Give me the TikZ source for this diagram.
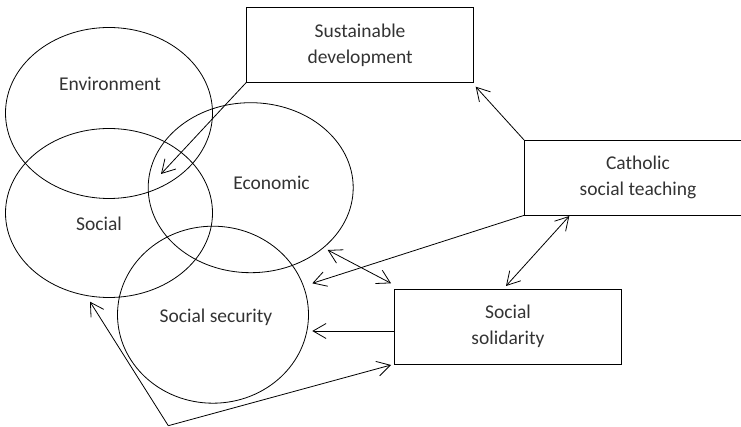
\documentclass[tikz,border=0pt]{standalone}
\usepackage{fontspec}
\setmainfont{Carlito}
\usepackage{tikz}
\usetikzlibrary{calc}
\usetikzlibrary{arrows.meta}
\usetikzlibrary{shapes.geometric}
\tikzset{
    blob/.style={draw=black, line width=0.8pt, ellipse, inner sep=0pt},
    box/.style={draw=black, line width=0.8pt, rectangle, inner sep=0pt,
                minimum width=227pt, minimum height=74.5pt, align=center},
    lbl/.style={inner sep=0pt, align=center},
    link/.style={draw=black, line width=0.8pt, -{Straight Barb[length=13pt,width=15pt]}},
    both/.style={draw=black, line width=0.8pt, {Straight Barb[length=13pt,width=15pt]}-{Straight Barb[length=13pt,width=15pt]}}
}

\begin{document}
\begin{tikzpicture}[x=1pt, y=-1pt, every node/.style={font=\fontsize{19.5}{26}\selectfont, text=black!80}]
  % page frame
  \clip (0,0) rectangle (741,427);
  \useasboundingbox (0,0) rectangle (741,427);

  % the four circles
  \node[blob, minimum width=207pt, minimum height=171pt] (env) at (109,113) {};
  \node[blob, minimum width=207pt, minimum height=169pt] (soc) at (109,213) {};
  \node[blob, minimum width=205pt, minimum height=170pt] (eco) at (250.7,187.7) {};
  \node[blob, minimum width=191pt, minimum height=177pt] (sec) at (213,314.7) {};

  % their texts
  \node[lbl] (envText) at (110,84)    {Environment};
  \node[lbl] (socText) at (99,224)    {Social};
  \node[lbl] (ecoText) at (271.5,183) {Economic};
  \node[lbl] (secText) at (216,317)   {Social security};

  % the three boxes
  \node[box] (sust) at (360.1,44.9)  {Sustainable\\development};
  \node[box] (cath) at (638,177.7)   {Catholic\\social teaching};
  \node[box] (sol)  at (508,326.7)   {Social\\solidarity};

  % free ends of the arrows
  \coordinate (overlap)  at (161,174);
  \coordinate (sustEnd)  at (475.7,86.7);
  \coordinate (secTop)   at (312.3,283.3);
  \coordinate (ecoEdge)  at (327.7,250);
  \coordinate (solCorner) at (391,283.3);
  \coordinate (cathLow)  at (569.3,216);
  \coordinate (solTop)   at (506,286);
  \coordinate (secRight) at (312.3,331);
  \coordinate (apex)     at (168.3,425.7);
  \coordinate (socLow)   at (90,301.7);
  \coordinate (solLow)   at (391,365);

  % arrows
  \draw[link] (sust.south west) -- (overlap);
  \draw[link] (cath.north west) -- (sustEnd);
  \draw[link] (cath.south west) -- (secTop);
  \draw[both] (ecoEdge) -- (solCorner);
  \draw[both] (cathLow) -- (solTop);
  \draw[link] (sol.west |- secRight) -- (secRight);
  \draw[link] (apex) -- (socLow);
  \draw[link] (apex) -- (solLow);
\end{tikzpicture}
\end{document}
